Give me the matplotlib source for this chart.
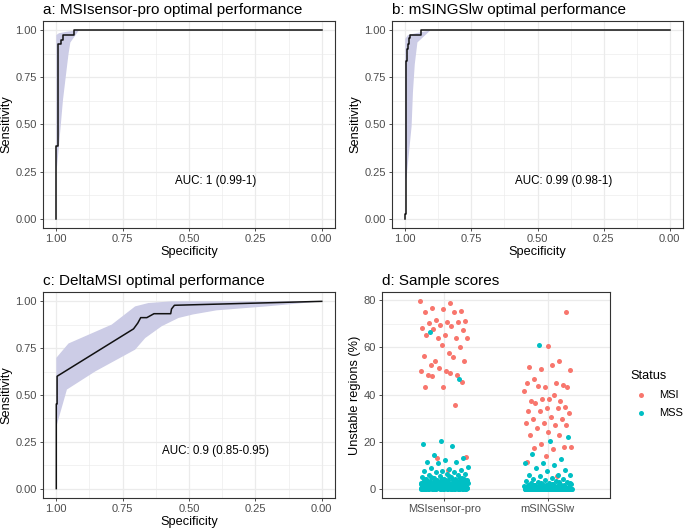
import matplotlib
matplotlib.use("Agg")
import matplotlib.pyplot as plt
import numpy as np
from matplotlib.ticker import MultipleLocator

plt.rcParams['font.family'] = ['Liberation Sans', 'DejaVu Sans']

# ROC curves (specificity, sensitivity)
a_spec = [1.0, 1.0, 0.995, 0.995, 0.993, 0.993, 0.981, 0.981, 0.976, 0.976, 0.935, 0.935, 0.0]
a_sens = [0.0, 0.385, 0.385, 0.84, 0.84, 0.93, 0.93, 0.95, 0.95, 0.977, 0.977, 1.0, 1.0]
a_hi_spec = [1.0, 0.99, 0.96, 0.92, 0.0]
a_hi_sens = [0.975, 0.985, 0.993, 1.0, 1.0]
a_lo_spec = [1.0, 0.997, 0.990, 0.975, 0.960, 0.954, 0.947, 0.915, 0.0]
a_lo_sens = [0.26, 0.28, 0.385, 0.628, 0.805, 0.874, 0.936, 1.0, 1.0]

b_spec = [1.0, 1.0, 0.996, 0.996, 0.993, 0.993, 0.99, 0.99, 0.986, 0.986, 0.982, 0.982, 0.941, 0.941, 0.0]
b_sens = [0.0, 0.025, 0.025, 0.835, 0.835, 0.9, 0.9, 0.93, 0.93, 0.96, 0.96, 0.977, 0.977, 1.0, 1.0]
b_hi_spec = [1.0, 0.99, 0.96, 0.905, 0.0]
b_hi_sens = [0.955, 0.975, 0.985, 1.0, 1.0]
b_lo_spec = [1.0, 0.995, 0.976, 0.971, 0.964, 0.954, 0.905, 0.0]
b_lo_sens = [0.2, 0.22, 0.49, 0.67, 0.82, 0.936, 1.0, 1.0]

c_spec = [1.0, 1.0, 0.997, 0.997, 0.709, 0.693, 0.682, 0.659, 0.632, 0.569, 0.566, 0.555, 0.0]
c_sens = [0.0, 0.452, 0.452, 0.60, 0.853, 0.884, 0.913, 0.913, 0.934, 0.934, 0.959, 0.979, 1.0]
c_hi_spec = [1.0, 0.954, 0.791, 0.703, 0.653, 0.567, 0.0]
c_hi_sens = [0.698, 0.775, 0.876, 0.973, 0.991, 1.0, 1.0]
c_lo_spec = [1.0, 0.96, 0.853, 0.703, 0.665, 0.603, 0.54, 0.485, 0.396, 0.208, 0.0]
c_lo_sens = [0.33, 0.529, 0.626, 0.742, 0.804, 0.867, 0.911, 0.93, 0.952, 0.973, 1.0]

auc_labels = ["AUC: 1 (0.99-1)", "AUC: 0.99 (0.98-1)", "AUC: 0.9 (0.85-0.95)"]
titles = ["a: MSIsensor-pro optimal performance", "b: mSINGSlw optimal performance",
          "c: DeltaMSI optimal performance", "d: Sample scores"]

# sample scores (% unstable regions)
tools = ["MSIsensor-pro", "mSINGSlw"]
pro_msi = [79.6, 79.1, 76.6, 75.6, 76.3, 74.9, 74.9, 71.7, 71.4, 70.8, 70.2, 71.0, 69.4,
           68.4, 69.0, 67.8, 67.6, 65.4, 65.4, 63.9, 63.9, 63.9, 57.8, 52.6, 60.2, 60.9,
           56.3, 56.1, 54.1, 54.1, 49.9, 48.5, 48.2, 51.2, 50.2, 49.2, 47.8, 45.5, 43.2,
           43.4, 35.6, 12.9, 13.6, 7.8]
pro_mss = [66.4, 46.6, 20.2, 19.0, 18.3, 14.3, 13.2, 12.2, 11.5, 11.3, 10.9, 9.0, 8.2,
           8.9, 8.0, 7.7, 7.5, 7.2, 7.2, 6.1, 6.1, 5.9,
           5.6, 5.3, 5.0, 4.8, 4.7, 4.4, 4.2, 4.1, 3.9, 3.8, 3.6, 3.5, 3.4, 3.2, 3.1,
           3.0, 2.9, 2.8, 2.7, 2.6, 2.5, 2.4, 2.3, 2.2, 2.1, 2.0, 1.9, 1.8, 1.7, 1.6,
           1.5, 1.4, 1.3, 1.2, 1.1, 1.0, 0.9, 0.8, 0.7, 0.6, 0.5, 0.4, 0.3, 0.2, 0.1,
           5.2, 4.9, 4.5, 4.3, 4.0, 3.7, 3.3, 3.0, 2.8, 2.6, 2.4, 2.2, 2.0, 1.8, 1.6,
           1.4, 1.2, 1.0, 0.8, 0.6, 0.4, 0.2, 0.1, 0.0, 0.0, 0.0, 0.0,
           4.6, 3.9, 3.5, 3.1, 2.7, 2.5, 2.3, 2.1, 1.9, 1.7, 1.5, 1.3, 1.1, 0.9, 0.7,
           0.5, 0.3, 0.2, 0.1, 0.0, 0.0, 0.0, 0.0, 0.0, 0.0,
           3.6, 3.2, 2.9, 2.5, 2.2, 1.9, 1.6, 1.4, 1.2, 1.0, 0.8, 0.6, 0.5, 0.4, 0.3,
           0.2, 0.1, 0.0, 0.0, 0.0, 0.0, 0.0, 0.0, 0.0, 0.0, 0.0, 0.0,
           2.4, 2.0, 1.7, 1.5, 1.3, 1.1, 0.9, 0.7, 0.5, 0.4, 0.3, 0.2, 0.1, 0.1, 0.0,
           0.0, 0.0, 0.0, 0.0, 0.0, 0.0, 0.0, 0.0, 0.0, 0.0]
sing_msi = [75.0, 60.6, 51.7, 54.1, 51.0, 50.5, 52.6, 46.8, 44.2, 43.4, 44.9, 44.9, 43.5,
            43.0, 38.2, 37.2, 37.2, 37.9, 41.4, 40.0, 36.5, 34.9, 34.3, 32.9, 34.3, 32.9,
            32.2, 30.4, 29.8, 29.7, 27.8, 27.8, 27.1, 25.6, 27.0, 23.9, 22.6, 22.6, 18.8,
            17.7, 17.0, 17.1, 17.7, 13.9, 11.4, 5.4]
sing_mss = [61.2, 21.9, 20.1, 14.8, 12.8, 10.8, 10.7, 9.9, 8.9, 8.0, 7.5, 5.9, 5.9, 5.5,
            5.9, 4.6, 4.2, 3.9, 3.6, 3.4, 3.1, 2.9, 2.7, 2.5, 2.3, 2.1, 2.0, 1.9, 1.8,
            1.7, 1.6, 1.5, 1.4, 1.3, 1.2, 1.1, 1.0, 0.9, 0.8, 0.7, 0.6, 0.5, 0.4, 0.3,
            0.2, 0.1, 3.0, 2.6, 2.2, 1.8, 1.5, 1.2, 0.9, 0.7, 0.5, 0.4, 0.3, 0.2, 0.1,
            0.1, 1.6, 1.1, 0.8, 0.6, 0.4, 0.3, 0.2, 0.2, 0.1, 0.1] + [0.0] * 110

red = "#F8766D"
teal = "#00BFC4"
band = "#CCCCE6"
grid_c = "#EBEBEB"
frame_c = "#333333"
tick_c = "#4D4D4D"

fig = plt.figure(figsize=(6.85, 5.30), dpi=100)
ax_a = fig.add_axes([0.0628, 0.5698, 0.4263, 0.3906])
ax_b = fig.add_axes([0.5723, 0.5698, 0.4248, 0.3906])
ax_c = fig.add_axes([0.0628, 0.0604, 0.4263, 0.3887])
ax_d = fig.add_axes([0.5577, 0.0604, 0.3328, 0.3887])


def style(ax):
    ax.set_axisbelow(True)
    for s in ax.spines.values():
        s.set_color(frame_c)
        s.set_linewidth(0.8)
    ax.grid(which='major', color=grid_c, linewidth=0.9)
    ax.grid(which='minor', color=grid_c, linewidth=0.45)
    ax.tick_params(which='major', length=2.5, width=0.6, color=frame_c,
                   labelsize=8, labelcolor=tick_c, pad=2)
    ax.tick_params(which='minor', length=0)


rocs = [(ax_a, a_spec, a_sens, a_hi_spec, a_hi_sens, a_lo_spec, a_lo_sens),
        (ax_b, b_spec, b_sens, b_hi_spec, b_hi_sens, b_lo_spec, b_lo_sens),
        (ax_c, c_spec, c_sens, c_hi_spec, c_hi_sens, c_lo_spec, c_lo_sens)]

for i, (ax, sp, se, hsp, hse, lsp, lse) in enumerate(rocs):
    style(ax)
    ax.fill(np.r_[hsp, lsp[::-1]], np.r_[hse, lse[::-1]], color=band, lw=0)
    ax.plot(sp, se, color="#111111", lw=1.1)
    ax.set_xlim(1.05, -0.05)
    ax.set_ylim(-0.05, 1.05)
    ax.xaxis.set_major_locator(MultipleLocator(0.25))
    ax.yaxis.set_major_locator(MultipleLocator(0.25))
    ax.xaxis.set_minor_locator(MultipleLocator(0.125))
    ax.yaxis.set_minor_locator(MultipleLocator(0.125))
    ax.xaxis.set_major_formatter(lambda v, p: f"{v:.2f}")
    ax.yaxis.set_major_formatter(lambda v, p: f"{v:.2f}")
    ax.set_xlabel("Specificity", fontsize=9.2, labelpad=1)
    ax.set_ylabel("Sensitivity", fontsize=9.2, labelpad=2)
    ax.text(0.4, 0.2, auc_labels[i], fontsize=8.4, ha='center', va='center')
    ax.set_title(titles[i], fontsize=11, loc='left', pad=5)

# panel d
style(ax_d)
phi = 0.6180339887
width = 0.23
groups = [(1, pro_msi, pro_mss), (2, sing_msi, sing_mss)]
k = 0
for pos, msi, mss in groups:
    for vals, col in [(msi, red), (mss, teal)]:
        idx = np.arange(k, k + len(vals))
        k += len(vals)
        xs = pos + width * (2 * ((idx * phi) % 1.0) - 1)
        ax_d.scatter(xs, vals, s=13, color=col, lw=0, zorder=3)

ax_d.scatter([], [], s=13, color=red, lw=0, label="MSI")
ax_d.scatter([], [], s=13, color=teal, lw=0, label="MSS")
ax_d.set_xlim(0.4, 2.6)
ax_d.set_ylim(-3.98, 83.6)
ax_d.set_xticks([1, 2])
ax_d.set_xticklabels(tools)
ax_d.yaxis.set_major_locator(MultipleLocator(20))
ax_d.yaxis.set_minor_locator(MultipleLocator(10))
ax_d.grid(which='minor', axis='x', visible=False)
ax_d.set_ylabel("Unstable regions (%)", fontsize=9.2, labelpad=2)
ax_d.set_title(titles[3], fontsize=11, loc='left', pad=5)

fig.legend(handles=ax_d.get_legend_handles_labels()[0], labels=["MSI", "MSS"],
           title="Status", loc='upper left', bbox_to_anchor=(0.905, 0.32),
           frameon=False, fontsize=8, title_fontsize=9.2, handletextpad=0.6,
           markerscale=1.0, labelspacing=0.7, alignment='left')

fig.savefig("out.png", dpi=100)
